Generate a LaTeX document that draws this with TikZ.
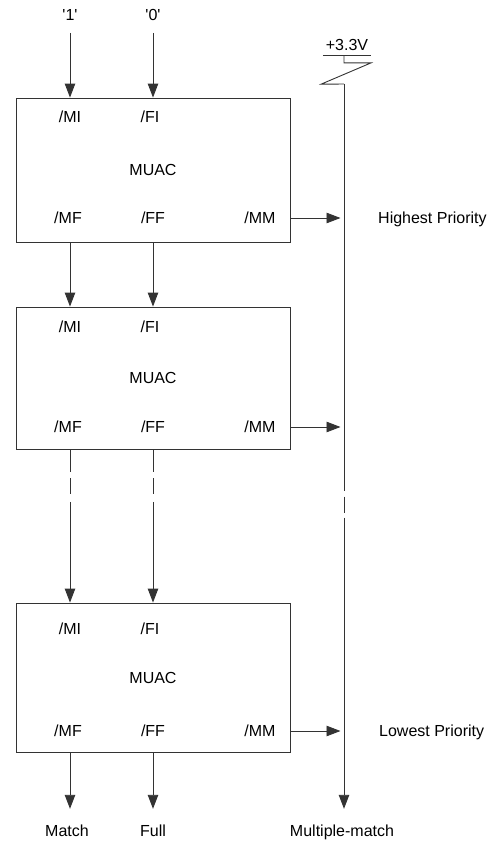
\documentclass[tikz,border=0pt]{standalone}
\usepackage{fontspec}
\setmainfont{Liberation Sans}[Ligatures=TeXOff]
\usetikzlibrary{arrows.meta, positioning}
\tikzset{
  x=1pt, y=-1pt, % one unit is one pixel of the sketch, y grows downwards
  every node/.style={font=\fontsize{16}{19}\selectfont, inner sep=0pt, text height=11.5pt, text depth=0pt},
  wire/.style={draw=black!80, line width=0.9pt, line join=miter}, % every line
  sig/.style={wire, -{Triangle[length=14pt, width=10.5pt]}}, % signal arrows
  muac/.style={wire, minimum width=274pt}, % the unit boxes
  gap/.style={dash pattern=on 22.5pt off 6.5pt on 16pt off 7.5pt on 200pt off 1pt}, % broken line between unit 2 and unit n
}
\begin{document}
\begin{tikzpicture}
    \useasboundingbox (0,0) rectangle (491,841);

    % inputs
    \node (one) at (70,15) {'1'};
    \node (zero) at (153,15) {'0'};

    % the units
    \node[muac, minimum height=144pt] (muac1) at (153,170) {MUAC};
    \node[muac, minimum height=142pt] (muac2) at (153,378) {MUAC};
    \node[muac, minimum height=149pt] (muac3) at (153,677.5) {MUAC};

    \node (mi1) at (70,117) {/MI};
    \node (fi1) at (150,117) {/FI};
    \node (mf1) at (68,218) {/MF};
    \node (ff1) at (153,218) {/FF};
    \node (mm1) at (260,218) {/MM};

    \node (mi2) at (70,327) {/MI};
    \node (fi2) at (150,327) {/FI};
    \node (mf2) at (68,427) {/MF};
    \node (ff2) at (153,427) {/FF};
    \node (mm2) at (260,427) {/MM};

    \node (mi3) at (70,629) {/MI};
    \node (fi3) at (150,629) {/FI};
    \node (mf3) at (68,731) {/MF};
    \node (ff3) at (153,731) {/FF};
    \node (mm3) at (260,731) {/MM};

    % supply and outputs
    \node[minimum width=48pt, inner ysep=4.25pt] (vcc) at (347,45) {+3.3V};
    \coordinate (bustop) at (344,84);
    \node[anchor=west] (high) at (378,218) {Highest Priority};
    \node[anchor=west] (low) at (379,731) {Lowest Priority};
    \node (match) at (67,831) {Match};
    \node (full) at (153,831) {Full};
    \node (mmatch) at (342,831) {Multiple-match};

    \draw[wire] (vcc.south west) -- (vcc.south east);
    \draw[wire] (vcc.south -| bustop) |- ++(27,7.7) -- ++(-50,21.3) -- (bustop);

    \draw[sig, shorten <=12pt] (one) -- (one |- muac1.north);
    \draw[sig, shorten <=12pt] (zero) -- (zero |- muac1.north);
    \draw[sig] (muac1.south -| one) -- (muac2.north -| one);
    \draw[sig] (muac1.south -| zero) -- (muac2.north -| zero);
    \draw[sig, gap] (muac2.south -| one) -- (muac3.north -| one);
    \draw[sig, gap] (muac2.south -| zero) -- (muac3.north -| zero);
    \draw[sig, shorten >=16.25pt] (muac3.south -| one) -- (one |- match.north);
    \draw[sig, shorten >=16.25pt] (muac3.south -| zero) -- (zero |- full.north);

    \draw[sig, shorten >=3.5pt] (muac1.east |- mm1) -- (bustop |- mm1);
    \draw[sig, shorten >=3.5pt] (muac2.east |- mm2) -- (bustop |- mm2);
    \draw[sig, shorten >=3.5pt] (muac3.east |- mm3) -- (bustop |- mm3);
    \draw[sig, dash pattern=on 406.7pt off 6pt on 16pt off 5pt on 400pt off 1pt, shorten >=16.25pt] (bustop) -- (bustop |- mmatch.north);

\end{tikzpicture}
\end{document}
